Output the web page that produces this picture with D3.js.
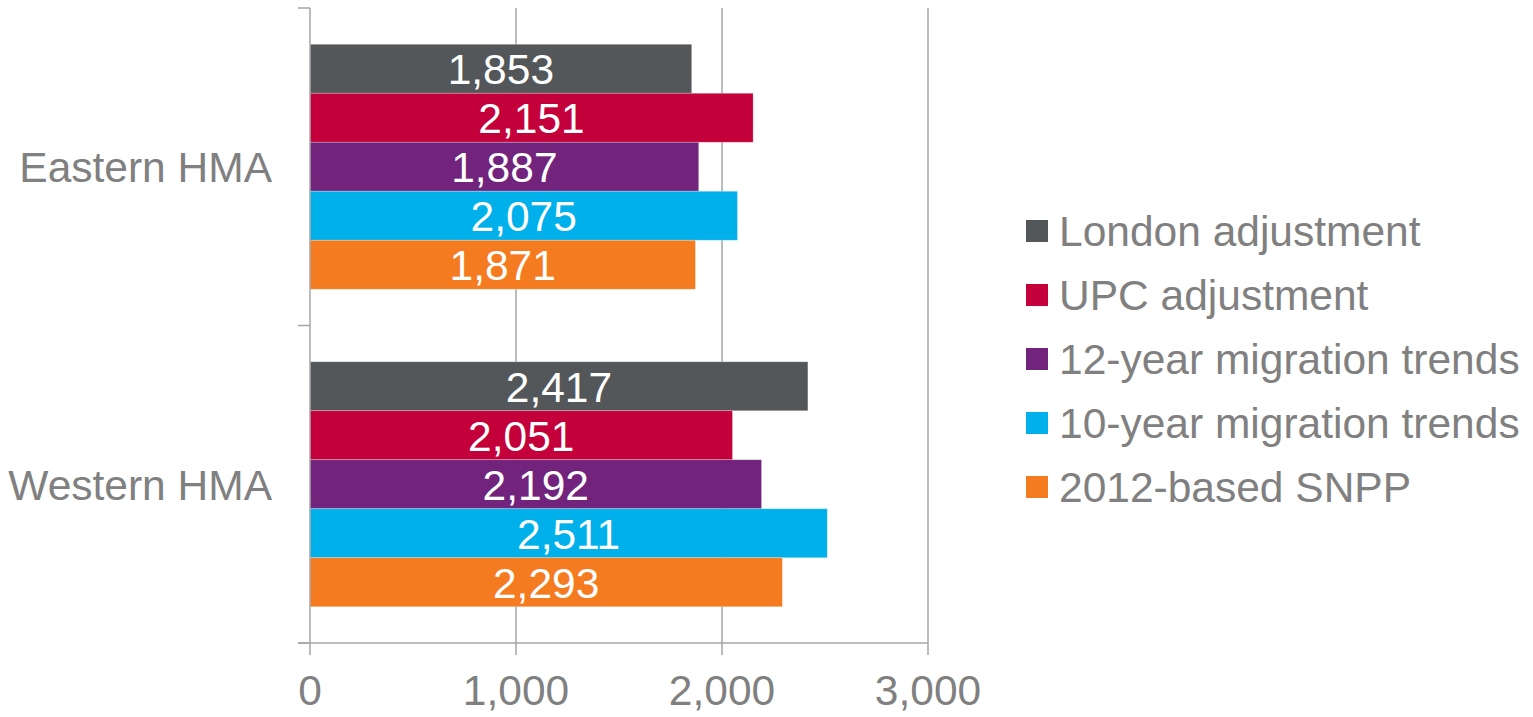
<!DOCTYPE html>
<html>
<head>
<meta charset="utf-8">
<script src="https://cdn.jsdelivr.net/npm/d3@7"></script>
<style>
  body { margin: 0; background: #fff; }
  svg { display: block; font-family: "Liberation Sans", Arial, sans-serif; }
</style>
</head>
<body>
<svg id="chart" width="1533" height="717"></svg>
<script>
// chart data
const categories = ["Eastern HMA", "Western HMA"];
const seriesNames = ["London adjustment", "UPC adjustment", "12-year migration trends", "10-year migration trends", "2012-based SNPP"];
const seriesColors = ["#54575a", "#c4003a", "#72237c", "#00b0ea", "#f47b20"];
const easternValues = [1853, 2151, 1887, 2075, 1871];
const westernValues = [2417, 2051, 2192, 2511, 2293];
const xTicks = [0, 1000, 2000, 3000];

const valuesByCategory = [easternValues, westernValues];
const grey = "#808080", lineCol = "#a6a6a6";
const fontSize = 42.5;

const svg = d3.select("#chart");

const x = d3.scaleLinear().domain([0, 3000]).range([310, 928]);
const y = d3.scaleBand().domain(categories).range([8, 643]).padding(0);
const yInner = d3.scaleBand().domain(seriesNames).range([0, y.bandwidth()])
    .paddingInner(0).paddingOuter(0.74);
const fmt = d3.format(",");

// vertical gridlines
svg.append("g").selectAll("line")
    .data(xTicks.slice(1))
    .join("line")
    .attr("x1", d => x(d)).attr("x2", d => x(d))
    .attr("y1", 8).attr("y2", 643)
    .attr("stroke", lineCol).attr("stroke-width", 1.5);

// bars
const groups = svg.append("g").selectAll("g")
    .data(categories)
    .join("g")
    .attr("transform", d => `translate(0,${y(d)})`);

groups.selectAll("rect")
    .data((c, i) => valuesByCategory[i].map((v, j) => ({ name: seriesNames[j], value: v, color: seriesColors[j] })))
    .join("rect")
    .attr("x", x(0))
    .attr("y", d => yInner(d.name))
    .attr("width", d => x(d.value) - x(0))
    .attr("height", yInner.bandwidth())
    .attr("fill", d => d.color)
    .attr("stroke", "#fff").attr("stroke-opacity", 0.35).attr("stroke-width", 0.75);

groups.selectAll("text")
    .data((c, i) => valuesByCategory[i].map((v, j) => ({ name: seriesNames[j], value: v })))
    .join("text")
    .attr("x", d => (x(d.value) + x(0)) / 2)
    .attr("y", d => yInner(d.name) + yInner.bandwidth() / 2)
    .attr("dy", "0.36em")
    .attr("text-anchor", "middle")
    .attr("fill", "#fff")
    .attr("font-size", fontSize)
    .text(d => fmt(d.value));

// y axis (category)
const yAxis = svg.append("g");
yAxis.append("line")
    .attr("x1", x(0)).attr("x2", x(0)).attr("y1", 8).attr("y2", 643)
    .attr("stroke", lineCol).attr("stroke-width", 1.5);
yAxis.selectAll("line.tick")
    .data([8, ...categories.map(c => y(c) + y.bandwidth())])
    .join("line")
    .attr("class", "tick")
    .attr("x1", 298).attr("x2", x(0))
    .attr("y1", d => d).attr("y2", d => d)
    .attr("stroke", lineCol).attr("stroke-width", 1.5);
yAxis.selectAll("text")
    .data(categories)
    .join("text")
    .attr("x", 272)
    .attr("y", d => y(d) + y.bandwidth() / 2)
    .attr("dy", "0.36em")
    .attr("text-anchor", "end")
    .attr("fill", grey)
    .attr("font-size", fontSize)
    .text(d => d);

// x axis
const xAxis = svg.append("g");
xAxis.append("line")
    .attr("x1", 298).attr("x2", x(3000)).attr("y1", 643).attr("y2", 643)
    .attr("stroke", lineCol).attr("stroke-width", 1.5);
xAxis.selectAll("line.tick")
    .data(xTicks)
    .join("line")
    .attr("class", "tick")
    .attr("x1", d => x(d)).attr("x2", d => x(d))
    .attr("y1", 643).attr("y2", 655)
    .attr("stroke", lineCol).attr("stroke-width", 1.5);
xAxis.selectAll("text")
    .data(xTicks)
    .join("text")
    .attr("x", d => x(d))
    .attr("y", 690)
    .attr("dy", "0.36em")
    .attr("text-anchor", "middle")
    .attr("fill", grey)
    .attr("font-size", fontSize)
    .text(d => fmt(d));

// legend
const legend = svg.append("g").selectAll("g")
    .data(seriesNames)
    .join("g")
    .attr("transform", (d, i) => `translate(1026,${231 + i * 64})`);
legend.append("rect")
    .attr("x", 0).attr("y", -11).attr("width", 22).attr("height", 22)
    .attr("fill", (d, i) => seriesColors[i]);
legend.append("text")
    .attr("x", 33).attr("y", 0).attr("dy", "0.36em")
    .attr("fill", grey)
    .attr("font-size", fontSize)
    .text(d => d);
</script>
</body>
</html>
